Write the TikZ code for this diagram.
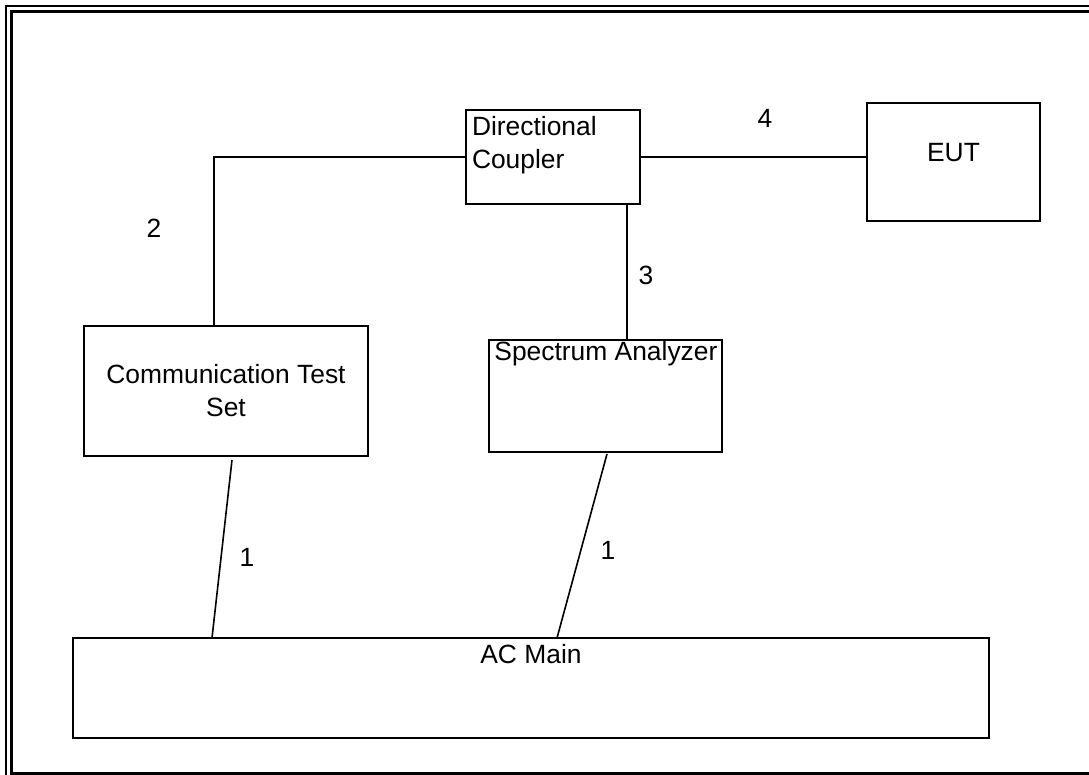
\documentclass[tikz,border=0pt]{standalone}
\usepackage{fontspec}
\setmainfont{Liberation Sans}
\usepackage{tikz}
\tikzset{
  box/.style={draw, line width=1pt, rectangle, inner sep=0pt},
  lbl/.style={font=\fontsize{13.2}{16.5}\selectfont, inner sep=3.3pt},
  num/.style={font=\fontsize{13.2}{16.5}\selectfont, inner sep=0pt},
  wire/.style={line width=0.8pt}
}

\begin{document}
\begin{tikzpicture}[x=0.5pt, y=-0.5pt]
\useasboundingbox (0, 0) rectangle (1089, 775);
\begin{scope}
\clip (0, 0) rectangle (1089, 775);
\draw [line width=1.1pt] (6, 6) rectangle (1110, 795);
\draw [line width=1.5pt] (11.5, 11.5) rectangle (1100, 773.5);
\end{scope}
\node [box, minimum width=87pt, minimum height=47pt, label={[lbl, anchor=north west, align=left]north west:Directional\\Coupler}] (coupler) at (553, 157) {};
\node [box, minimum width=86.5pt, minimum height=59pt, label={[lbl, anchor=center, yshift=4.5pt]center:EUT}] (eut) at (953.5, 162) {};
\node [box, minimum width=142pt, minimum height=65pt, lbl, align=center, inner sep=0pt] (comm) at (226, 391) {Communication Test\\Set};
\node [box, minimum width=116.5pt, minimum height=56pt, label={[lbl, anchor=north west, inner sep=1pt, xshift=2pt]north west:Spectrum Analyzer}] (spec) at (605.5, 396) {};
\node [box, minimum width=458pt, minimum height=50pt, label={[lbl, anchor=center, yshift=-8.5pt]north:AC Main}] (acmain) at (531, 688) {};
\coordinate (elbow) at (214, 157);
\coordinate (acleft) at (212, 638);
\coordinate (acright) at (557, 638);
\draw [wire] (coupler.west) -- (elbow) -- (elbow |- comm.north);
\draw [wire] (coupler.east) -- (coupler.east -| eut.west);
\draw [wire] ([xshift=-7pt]coupler.south east) -- ([xshift=-7pt]coupler.south east |- spec.north);
\draw [wire] ([xshift=3pt, yshift=-1.5pt]comm.south) -- (acleft);
\draw [wire] ([xshift=0.75pt, yshift=-0.5pt]spec.south) -- (acright);
\node [num] (n2) at (154, 228) {2};
\node [num] (n4) at (765, 118) {4};
\node [num] (n3) at (646, 275) {3};
\node [num] (n1a) at (247, 557) {1};
\node [num] (n1b) at (608, 550) {1};
\end{tikzpicture}
\end{document}
